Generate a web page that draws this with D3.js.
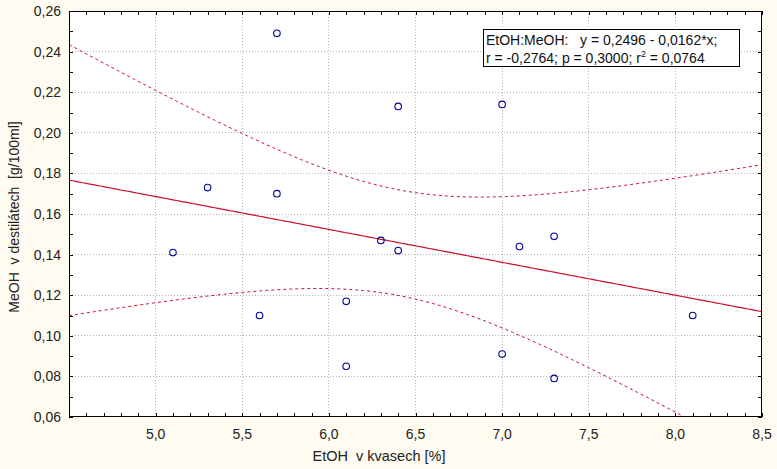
<!DOCTYPE html>
<html><head><meta charset="utf-8">
<script src="https://cdn.jsdelivr.net/npm/d3@7"></script>
<style>
html,body{margin:0;padding:0;background:#FFFBF0;}
svg{display:block;font-family:Arial,"Liberation Sans",sans-serif;}
</style></head>
<body>
<script>
const etoh = [5.1,5.3,5.6,5.7,5.7,6.1,6.1,6.3,6.4,6.4,7.0,7.0,7.1,7.3,7.3,8.1];
const meoh = [0.141,0.173,0.110,0.249,0.170,0.117,0.085,0.147,0.142,0.213,0.214,0.091,0.144,0.149,0.079,0.110];
const coef = [0.2496,-0.0162];
const xTicks = [5.0,5.5,6.0,6.5,7.0,7.5,8.0,8.5];
const yTicks = [0.06,0.08,0.10,0.12,0.14,0.16,0.18,0.20,0.22,0.24,0.26];
const xTitle = "EtOH  v kvasech [%]";
const yTitle = "MeOH  v destilátech  [g/100ml]";
const legend1 = "EtOH:MeOH:   y = 0,2496 - 0,0162*x;";

const W=777,H=469;
const L=69,R=762,T=11,B=417;
const svg=d3.select("body").append("svg").attr("width",W).attr("height",H);
const x=d3.scaleLinear().domain([4.5,8.5]).range([L,R]);
const y=d3.scaleLinear().domain([0.06,0.26]).range([B,T]);
const fmt=(d,p)=>d.toFixed(p).replace(".",",");

svg.append("rect").attr("x",L).attr("y",T).attr("width",R-L).attr("height",B-T).attr("fill","#fff");
svg.append("defs").append("clipPath").attr("id","c").append("rect").attr("x",L).attr("y",T).attr("width",R-L).attr("height",B-T);

// grid
const g=svg.append("g");
g.selectAll(".gx").data(xTicks.filter(d=>d<8.5)).join("line").attr("x1",d=>x(d)).attr("x2",d=>x(d)).attr("y1",T).attr("y2",B)
 .attr("stroke","#b4b4b4").attr("stroke-dasharray","1,2").attr("shape-rendering","crispEdges");
g.selectAll(".gy").data(yTicks.filter(d=>d>0.061&&d<0.259)).join("line").attr("y1",d=>y(d)).attr("y2",d=>y(d)).attr("x1",L).attr("x2",R)
 .attr("stroke","#b4b4b4").attr("stroke-dasharray","1,2").attr("shape-rendering","crispEdges");

// regression and 95% band
const n=etoh.length, xm=d3.mean(etoh);
const sxx=d3.sum(etoh,v=>(v-xm)**2);
const sres=Math.sqrt(d3.sum(etoh,(v,i)=>(meoh[i]-(coef[0]+coef[1]*v))**2)/(n-2));
const tval=2.1448;
const xs=d3.range(4.5,8.5001,0.02);
const fit=v=>coef[0]+coef[1]*v;
const hw=v=>tval*sres*Math.sqrt(1/n+(v-xm)**2/sxx);
const line=d3.line().x(d=>x(d[0])).y(d=>y(d[1]));
const cg=svg.append("g").attr("clip-path","url(#c)");
const red="#C8102E";
cg.append("path").attr("d",line(xs.map(v=>[v,fit(v)]))).attr("fill","none").attr("stroke",red).attr("stroke-width",1.2);
cg.append("path").attr("d",line(xs.map(v=>[v,fit(v)+hw(v)]))).attr("fill","none").attr("stroke",red).attr("stroke-width",1).attr("stroke-dasharray","3,3");
cg.append("path").attr("d",line(xs.map(v=>[v,fit(v)-hw(v)]))).attr("fill","none").attr("stroke",red).attr("stroke-width",1).attr("stroke-dasharray","3,3");

// points
svg.selectAll(".pt").data(etoh).join("circle").attr("cx",d=>x(d)).attr("cy",(d,i)=>y(meoh[i])).attr("r",3.3)
 .attr("fill","none").attr("stroke","#000099").attr("stroke-width",1.1);

// frame
svg.append("rect").attr("x",L+0.5).attr("y",T+0.5).attr("width",R-L-1).attr("height",B-T-1).attr("fill","none").attr("stroke","#000").attr("stroke-width",1);

// minor ticks inside on all sides
const xMinor=d3.range(45,86).map(v=>v/10);
const yMinor=d3.range(6,27).map(v=>v/100);
const tk=svg.append("g").attr("stroke","#000").attr("shape-rendering","crispEdges");
xMinor.forEach(v=>{
 tk.append("line").attr("x1",Math.round(x(v))+0.5).attr("x2",Math.round(x(v))+0.5).attr("y1",B).attr("y2",B-4);
 tk.append("line").attr("x1",Math.round(x(v))+0.5).attr("x2",Math.round(x(v))+0.5).attr("y1",T).attr("y2",T+4);
});
yMinor.forEach(v=>{
 tk.append("line").attr("y1",Math.round(y(v))+0.5).attr("y2",Math.round(y(v))+0.5).attr("x1",L).attr("x2",L+4);
 tk.append("line").attr("y1",Math.round(y(v))+0.5).attr("y2",Math.round(y(v))+0.5).attr("x1",R).attr("x2",R-4);
});

// tick labels
svg.selectAll(".xl").data(xTicks).join("text").attr("x",d=>x(d)).attr("y",B+22).attr("text-anchor","middle")
 .attr("font-size",14).attr("fill","#222").text(d=>fmt(d,1));
svg.selectAll(".yl").data(yTicks).join("text").attr("x",L-8).attr("y",d=>y(d)+5).attr("text-anchor","end")
 .attr("font-size",14).attr("fill","#222").text(d=>fmt(d,2));

// titles
svg.append("text").attr("x",379).attr("y",B+44).attr("text-anchor","middle").attr("font-size",14.5).attr("fill","#222").attr("xml:space","preserve").text(xTitle);
svg.append("text").attr("transform",`translate(19,${(T+B)/2+3}) rotate(-90)`).attr("text-anchor","middle").attr("font-size",14).attr("fill","#222").attr("xml:space","preserve").text(yTitle);

// legend box
const lg=svg.append("g");
lg.append("rect").attr("x",483.5).attr("y",29.5).attr("width",256).attr("height",37).attr("fill","#fff").attr("stroke","#000").attr("stroke-width",1);
lg.append("text").attr("x",486).attr("y",45).attr("font-size",14).attr("fill","#111").attr("xml:space","preserve").text(legend1);
const t2=lg.append("text").attr("x",486).attr("y",63).attr("font-size",14).attr("fill","#111");
t2.append("tspan").text("r = -0,2764; p = 0,3000; r");
t2.append("tspan").attr("font-size",9).attr("dy",-6).text("2");
t2.append("tspan").attr("dy",6).text(" = 0,0764");
</script>
</body></html>
